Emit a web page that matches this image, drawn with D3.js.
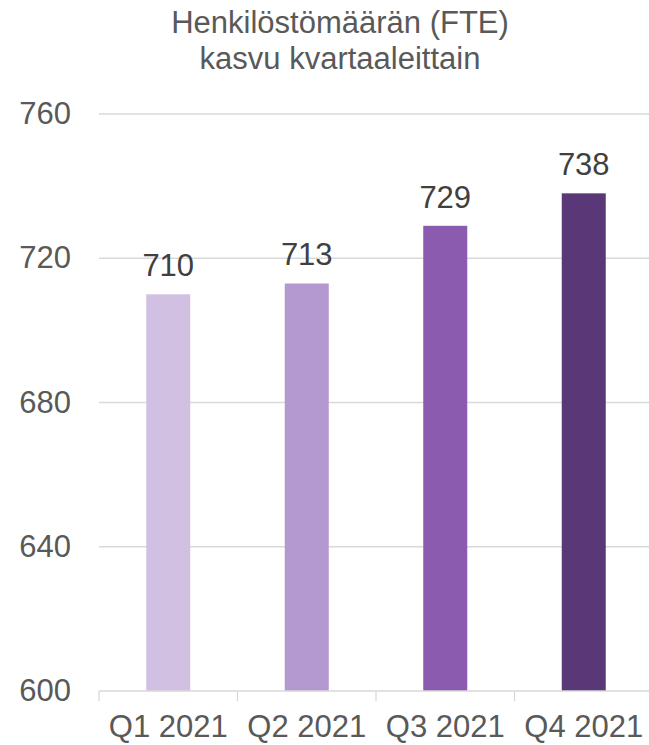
<!DOCTYPE html>
<html>
<head>
  <meta charset="utf-8">
  <title>Henkilöstömäärä</title>
  <style>
body { margin: 0; background: #fff; }
text { font-family: "Liberation Sans", Arial, sans-serif; fill: #595959; }
</style>
<script src="https://d3js.org/d3.v7.min.js"></script>
</head>
<body>
<div id="chart"></div>
<script>
var quarters = ["Q1 2021", "Q2 2021", "Q3 2021", "Q4 2021"];
var fte = [710, 713, 729, 738];
var barColors = ["#d1c0e2", "#b399cf", "#8a5baf", "#5a3877"];
var yTicks = [600, 640, 680, 720, 760];
var titleLines = ["Henkilöstömäärän (FTE)", "kasvu kvartaaleittain"];

var w = 649, h = 745;
var svg = d3.select("#chart").append("svg")
  .attr("width", w)
  .attr("height", h);

var x = d3.scaleBand().domain(quarters).range([99, 653]).paddingInner(0).paddingOuter(0);
var y = d3.scaleLinear().domain([600, 760]).range([691, 114]);
var barW = 44;

// gridlines
svg.selectAll("line.grid").data(yTicks.slice(1)).enter()
  .append("line")
    .attr("x1", 99).attr("x2", 653)
    .attr("y1", d => y(d)).attr("y2", d => y(d))
    .attr("stroke", "#d9d9d9").attr("stroke-width", 1.3);

// y labels
svg.selectAll("text.ytick").data(yTicks).enter()
  .append("text")
    .attr("x", 71)
    .attr("y", d => y(d) + 10)
    .attr("text-anchor", "end")
    .attr("font-size", 31)
    .text(d => d);

// bars
svg.selectAll("rect.bar").data(fte).enter()
  .append("rect")
    .attr("x", (d, i) => x(quarters[i]) + x.bandwidth() / 2 - barW / 2)
    .attr("y", d => y(d))
    .attr("width", barW)
    .attr("height", d => y(600) - y(d))
    .attr("fill", (d, i) => barColors[i]);

// value labels
svg.selectAll("text.val").data(fte).enter()
  .append("text")
    .attr("x", (d, i) => x(quarters[i]) + x.bandwidth() / 2)
    .attr("y", d => y(d) - 18)
    .attr("text-anchor", "middle")
    .attr("font-size", 31)
    .style("fill", "#404040")
    .text(d => d);

// x axis line + ticks
svg.append("line")
  .attr("x1", 99).attr("x2", 653)
  .attr("y1", y(600)).attr("y2", y(600))
  .attr("stroke", "#d9d9d9").attr("stroke-width", 1.3);
svg.selectAll("line.xtick").data(quarters.concat(["end"])).enter()
  .append("line")
    .attr("x1", d => d === "end" ? 653 : x(d))
    .attr("x2", d => d === "end" ? 653 : x(d))
    .attr("y1", y(600)).attr("y2", y(600) + 10)
    .attr("stroke", "#d9d9d9").attr("stroke-width", 1.3);

svg.selectAll("text.xlab").data(quarters).enter()
  .append("text")
    .attr("x", d => x(d) + x.bandwidth() / 2)
    .attr("y", 737)
    .attr("text-anchor", "middle")
    .attr("font-size", 31)
    .text(d => d);

// title
svg.selectAll("text.title").data(titleLines).enter()
  .append("text")
    .attr("x", 340)
    .attr("y", (d, i) => 33 + i * 36)
    .attr("text-anchor", "middle")
    .attr("font-size", 31)
    .text(d => d);
</script>
</body>
</html>
